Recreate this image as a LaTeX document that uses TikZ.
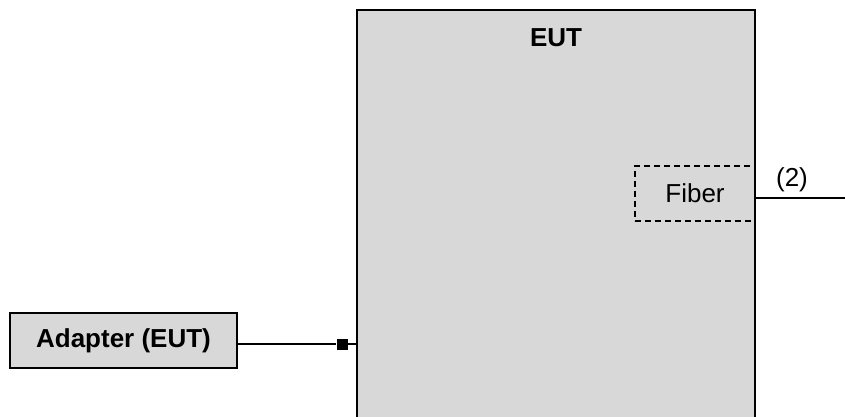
\documentclass[tikz,border=0pt]{standalone}
\usepackage{fontspec}
\setmainfont{Liberation Sans}
\begin{document}
\begin{tikzpicture}[x=1pt,y=-1pt,
  grbox/.style={draw=black,fill=boxgray,line width=2pt,inner sep=0pt},
  wire/.style={draw=black,line width=1.6pt},
  lbl/.style={font=\fontsize{26}{30}\selectfont},
  blbl/.style={font=\fontsize{26}{30}\selectfont\bfseries}]
\definecolor{boxgray}{RGB}{216,216,216}
\useasboundingbox (0,0) rectangle (845,416);
% EUT box (runs off bottom)
\path[grbox] (357,418) -- (357,10) -- (755,10) -- (755,418);
\node[blbl] (eut) at (556,38) {EUT};
% Fiber dashed box
\node[draw=black,line width=1.6pt,dash pattern=on 6pt off 4pt,minimum width=120pt,minimum height=55pt,inner sep=0pt,lbl] (fiber) at (695,193.5) {Fiber};
\coordinate (fout) at (755,198);
\coordinate (fend) at (845,198);
\draw[wire] (fout) -- (fend);
\node[lbl] (two) at (792,180) {(2)};
% Adapter
\node[grbox,minimum width=227pt,minimum height=55pt,blbl] (adapter) at (123.5,340.5) {Adapter (EUT)};
\coordinate (ain) at (357,344);
\node[fill=black,minimum size=11pt,inner sep=0pt] (sq) at (342,344) {};
\draw[wire] (adapter.east |- ain) -- (sq.west);
\draw[wire] (sq.east) -- (ain);
\end{tikzpicture}
\end{document}
